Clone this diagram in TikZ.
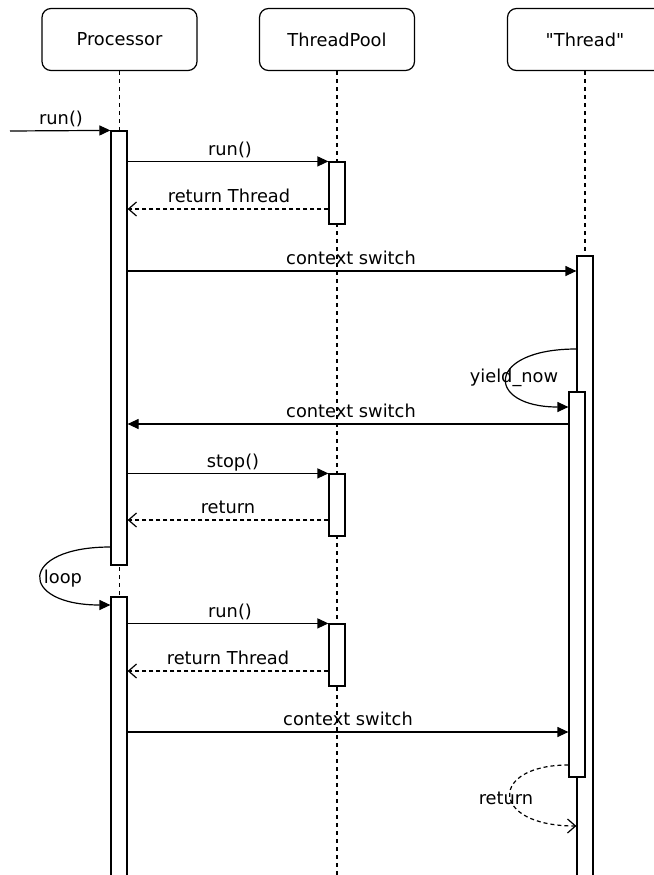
\documentclass[tikz,border=0pt]{standalone}
\usepackage{fontspec}
\setmainfont{DejaVu Sans}[Ligatures=TeXOff]
\usetikzlibrary{arrows.meta}
\tikzset{
  every node/.style={font=\fontsize{17.8}{21}\selectfont},
  header/.style={draw, line width=1.2pt, rounded corners=9pt, minimum width=155pt, minimum height=62pt},
  lifeline/.style={line width=1.2pt, dash pattern=on 4pt off 4pt},
  actbar/.style={draw, fill=white, line width=1.2pt, minimum width=16pt, inner sep=0pt},
  msg/.style={line width=1.2pt, -{Triangle[length=11pt,width=10pt]}},
  reply/.style={line width=1.2pt, dash pattern=on 4pt off 3pt, -{Straight Barb[length=8pt,width=14pt,line cap=butt]}},
  lbl/.style={inner sep=0pt, anchor=base}
}
\begin{document}
\begin{tikzpicture}[x=1pt, y=-1pt]
\useasboundingbox (0,0) rectangle (653,875);

% participants
\node[header] (proc) at (119.5,39.5) {Processor};
\node[header] (pool) at (337,39.5) {ThreadPool};
\node[header] (thr) at (585,39.5) {"Thread"};

% lifelines
\coordinate (bottom) at (0,880);
\draw[lifeline] (proc.south) -- (proc.south |- bottom);
\draw[lifeline] (pool.south) -- (pool.south |- bottom);
\draw[lifeline] (thr.south) -- (thr.south |- bottom);

% activation bars
\node[actbar, minimum height=434pt] (p1) at (119,348) {};
\node[actbar, minimum height=283pt] (p2) at (119,738.5) {};
\node[actbar, minimum height=62pt] (tp1) at (337,193) {};
\node[actbar, minimum height=62pt] (tp2) at (337,505) {};
\node[actbar, minimum height=62pt] (tp3) at (337,655) {};
\node[actbar, minimum height=624pt] (t1) at (585,568) {};
\node[actbar, minimum height=385pt] (t2) at (577,584.5) {};

% entry call
\coordinate (start) at (10,131);
\draw[msg] (start) -- (p1.north west);
\node[lbl] (lrun0) at (61,124) {run()};

% first round with the pool
\draw[msg] (p1.east |- tp1.north) -- (tp1.north west);
\node[lbl] (lrun1) at (230,155) {run()};
\draw[reply] (tp1.west |- 0,209) -- (p1.east |- 0,209);
\node[lbl] (lret1) at (229,202) {return Thread};

\draw[msg] (p1.east |- 0,271) -- (t1.west |- 0,271);
\node[lbl] (lcs1) at (351,264) {context switch};

% yield back to the processor
\draw[msg] (t1.west |- 0,349) .. controls (485,349) and (485,407) .. (t2.west |- 0,407);
\node[lbl] (lyield) at (514,382) {yield\_now};

\draw[msg] (t2.west |- 0,424) -- (p1.east |- 0,424);
\node[lbl] (lcs2) at (351,417) {context switch};

% stop
\draw[msg] (p1.east |- tp2.north) -- (tp2.north west);
\node[lbl] (lstop) at (233,467) {stop()};
\draw[reply] (tp2.west |- 0,520) -- (p1.east |- 0,520);
\node[lbl] (lret2) at (228,513) {return};

% loop
\draw[msg] (p1.west |- 0,547) .. controls (18,547) and (18,605) .. (p2.west |- 0,605);
\node[lbl] (lloop) at (63,583) {loop};

% second round with the pool
\draw[msg] (p2.east |- tp3.north) -- (tp3.north west);
\node[lbl] (lrun2) at (230,617) {run()};
\draw[reply] (tp3.west |- 0,671) -- (p2.east |- 0,671);
\node[lbl] (lret3) at (228,664) {return Thread};

\draw[msg] (p2.east |- 0,732) -- (t2.west |- 0,732);
\node[lbl] (lcs3) at (348,725) {context switch};

% final return
\draw[reply] (t2.west |- 0,765) .. controls (489,765) and (489,826) .. (t1.west |- 0,826);
\node[lbl] (lret4) at (506,804) {return};
\end{tikzpicture}
\end{document}
